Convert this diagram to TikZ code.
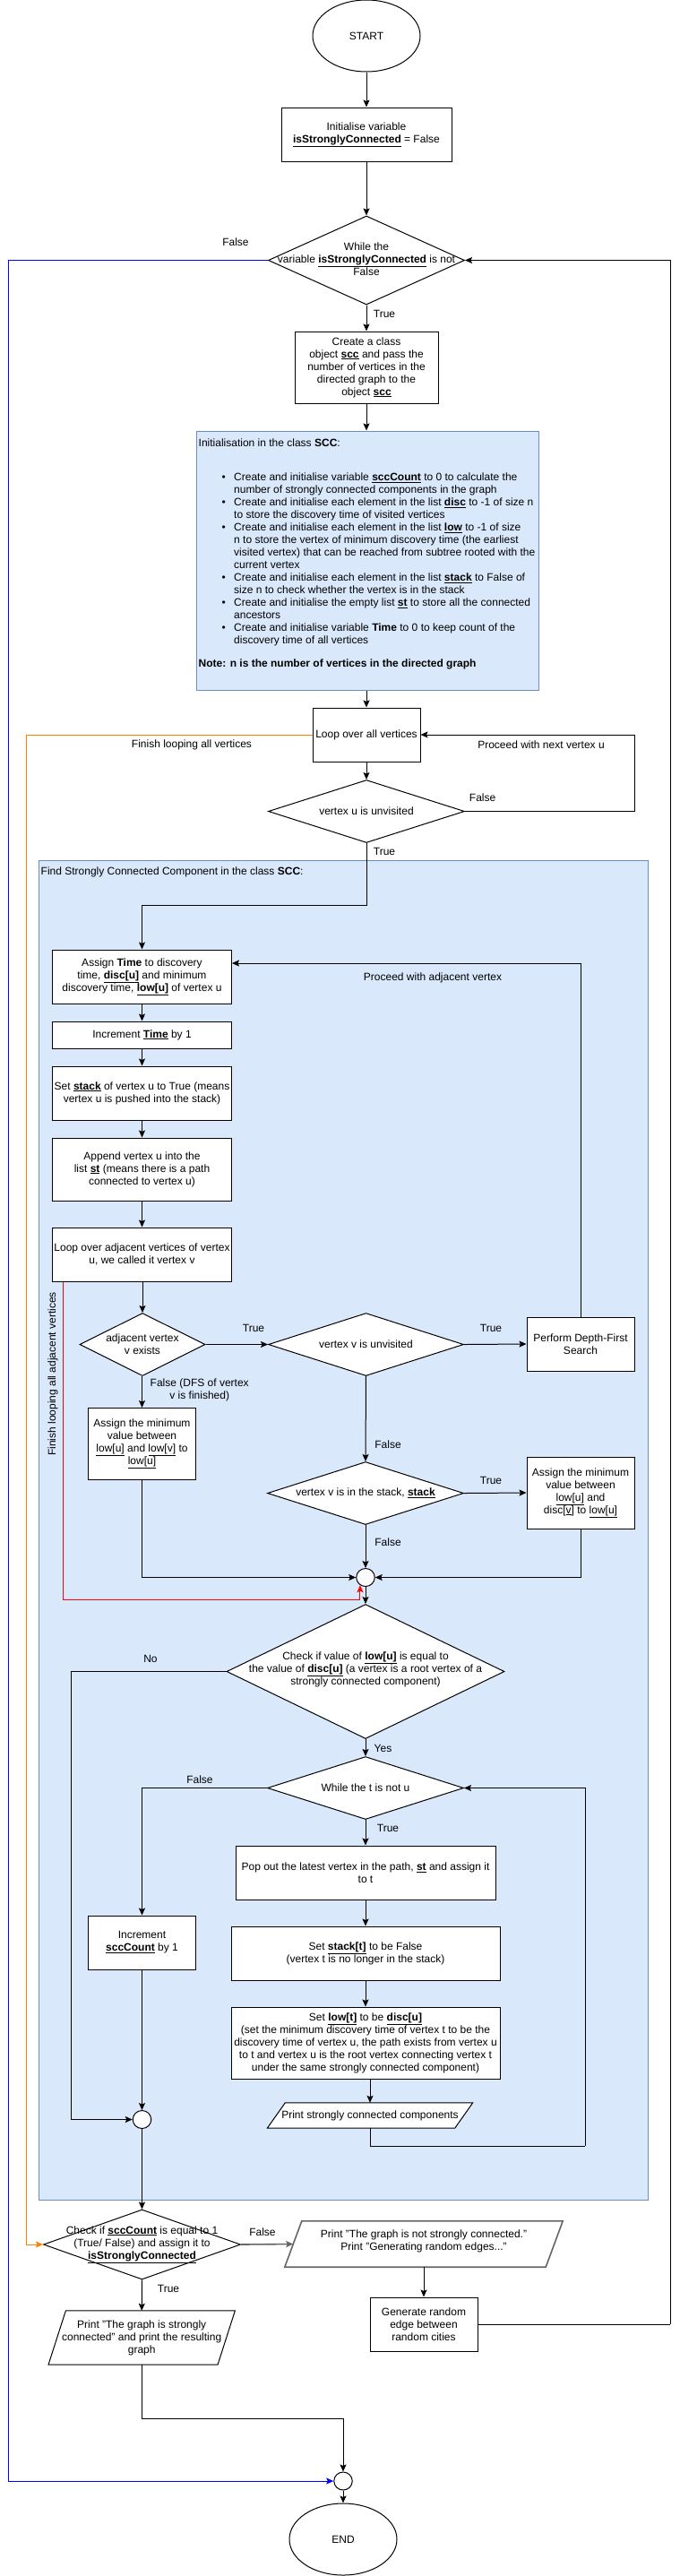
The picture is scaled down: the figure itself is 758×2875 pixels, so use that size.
\documentclass[tikz,border=0pt]{standalone}
\usepackage{fontspec}
\setmainfont{Liberation Sans}
\usetikzlibrary{shapes.geometric,arrows.meta,calc}
\definecolor{cfill}{HTML}{DAE8FC}
\definecolor{cdraw}{HTML}{6C8EBF}
\definecolor{corange}{HTML}{FF8000}
\definecolor{cgray}{HTML}{666666}
\newcommand{\ubf}[1]{\underline{\textbf{#1}}}
\newcommand{\uln}[1]{\underline{#1}}
\newcommand{\bul}{\makebox[13.5pt][l]{\textbullet}}
\newcommand{\ind}{\makebox[13.5pt]{}}
\begin{document}
\begin{tikzpicture}[x=1pt,y=-1pt,
  every node/.style={font=\fontsize{12}{14}\selectfont, inner sep=0pt, align=center},
  box/.style={draw, rectangle, line width=1pt, fill=white},
  dia/.style={draw, diamond, line width=1pt, fill=white},
  oval/.style={draw, ellipse, line width=1pt, fill=white},
  junc/.style={draw, ellipse, line width=1pt, fill=white, minimum width=20.5pt, minimum height=20pt},
  group/.style={draw=cdraw, fill=cfill, line width=1pt},
  pgram/.style={draw, line width=1pt, fill=white},
  conn/.style={line width=1pt, -{Stealth[length=8pt,width=7pt,inset=1.5pt]}},
  wire/.style={line width=1pt}]
\fill[white] (0,0) rectangle (758,2875);
\useasboundingbox (0,0) rectangle (758,2875);

% groups
\node[group, rectangle, minimum width=679.5pt, minimum height=1495pt] (cont) at (383.25,1707.5) {};
\node[anchor=west] (contl) at (45.5,973) {Find Strongly Connected Component in the class \textbf{SCC}:};

% top part
\node[oval, minimum width=120pt, minimum height=80pt] (start) at (409,40) {START};
\node[box, minimum width=190pt, minimum height=60pt] (init) at (409,150) {Initialise variable\\\ubf{isStronglyConnected} = False};
\node[dia, minimum width=219pt, minimum height=99pt] (w) at (409,290.5) {};
\node (wtx) at (409,289) {While the\\variable \ubf{isStronglyConnected} is not\\False};
\node[box, minimum width=160pt, minimum height=80pt] (create) at (409,410) {Create a class\\object \ubf{scc} and pass the\\number of vertices in the\\directed graph to the\\object \ubf{scc}};
\node[group, rectangle, minimum width=382pt, minimum height=289pt] (initscc) at (410.5,625.5) {};
\node[anchor=west] (isct) at (221.5,494) {Initialisation in the class \textbf{SCC}:};
\node[anchor=west, align=left] (iscb) at (247.5,624.5) {%
\bul Create and initialise variable \ubf{sccCount} to 0 to calculate the\\
\ind number of strongly connected components in the graph\\
\bul Create and initialise each element in the list \ubf{disc} to -1 of size n\\
\ind to store the discovery time of visited vertices\\
\bul Create and initialise each element in the list \ubf{low} to -1 of size\\
\ind n to store the vertex of minimum discovery time (the earliest\\
\ind visited vertex) that can be reached from subtree rooted with the\\
\ind current vertex\\
\bul Create and initialise each element in the list \ubf{stack} to False of\\
\ind size n to check whether the vertex is in the stack\\
\bul Create and initialise the empty list \ubf{st} to store all the connected\\
\ind ancestors\\
\bul Create and initialise variable \textbf{Time} to 0 to keep count of the\\
\ind discovery time of all vertices};
\node[anchor=west] (iscn) at (221.5,741.7) {\textbf{Note: n is the number of vertices in the directed graph}};
\node[box, minimum width=120pt, minimum height=60pt] (loop) at (409,820) {Loop over all vertices};
\node[dia, minimum width=219pt, minimum height=70pt] (uv) at (409,905.5) {};
\node (uvt) at (409,905.5) {vertex u is unvisited};

% left column
\node[box, minimum width=200pt, minimum height=60pt] (assign) at (158.5,1090) {Assign \textbf{Time} to discovery\\time, \ubf{disc[u]} and minimum\\discovery time, \ubf{low[u]} of vertex u};
\node[box, minimum width=200pt, minimum height=30pt] (inct) at (158.5,1155) {Increment \ubf{Time} by 1};
\node[box, minimum width=200pt, minimum height=60pt] (sets) at (158.5,1220) {Set \ubf{stack} of vertex u to True (means\\vertex u is pushed into the stack)};
\node[box, minimum width=200pt, minimum height=70pt] (app) at (158.5,1305) {Append vertex u into the\\list \ubf{st} (means there is a path\\connected to vertex u)};
\node[box, minimum width=200pt, minimum height=60pt] (ladj) at (158.5,1400) {Loop over adjacent vertices of vertex\\u, we called it vertex v};
\node[dia, minimum width=140pt, minimum height=70pt] (adj) at (159,1500.5) {};
\node (adjt) at (159,1500.5) {adjacent vertex\\v exists};
\node[dia, minimum width=218pt, minimum height=70pt] (vu) at (408.5,1500.5) {};
\node (vut) at (408.5,1500.5) {vertex v is unvisited};
\node[box, minimum width=120pt, minimum height=60pt] (dfs) at (648,1500) {Perform Depth-First\\Search};
\node[box, minimum width=120pt, minimum height=80pt] (lam) at (158.5,1611.5) {Assign the minimum\\value between\\\uln{low[u]} and \uln{low[v]} to\\\uln{low[u]}};
\node[dia, minimum width=219pt, minimum height=70pt] (sd) at (408,1666.5) {};
\node (sdt) at (408,1666.5) {vertex v is in the stack, \ubf{stack}};
\node[box, minimum width=120pt, minimum height=80pt] (ram) at (648,1666) {Assign the minimum\\value between\\\uln{low[u]} and\\disc[\uln{v}] to \uln{low[u]}};
\node[junc] (j1) at (408,1760.5) {};
\node[dia, minimum width=310pt, minimum height=150pt] (cd) at (408,1865.5) {};
\node (cdt) at (408,1863) {Check if value of \ubf{low[u]} is equal to\\the value of \ubf{disc[u]} (a vertex is a root vertex of a\\strongly connected component)};
\node[dia, minimum width=219pt, minimum height=70pt] (wt) at (408,1995.5) {};
\node (wtt) at (408,1995.5) {While the t is not u};
\node[box, minimum width=290pt, minimum height=60pt] (pop) at (408,2090) {Pop out the latest vertex in the path, \ubf{st} and assign it\\to t};
\node[box, minimum width=300pt, minimum height=60pt] (sst) at (408,2180) {Set \ubf{stack[t]} to be False\\(vertex t is no longer in the stack)};
\node[box, minimum width=300pt, minimum height=80pt] (slt) at (408,2280) {Set \ubf{low[t]} to be \ubf{disc[u]}\\(set the minimum discovery time of vertex t to be the\\discovery time of vertex u, the path exists from vertex u\\to t and vertex u is the root vertex connecting vertex t\\under the same strongly connected component)};
\node[minimum width=229pt, minimum height=28pt] (psccb) at (413,2361) {};
\draw[pgram] ([xshift=20pt]psccb.north west) -- (psccb.north east) -- ([xshift=-20pt]psccb.south east) -- (psccb.south west) -- cycle;
\node (psct) at (413,2361) {Print strongly connected components};
\node[box, minimum width=120pt, minimum height=60pt] (inc) at (158.5,2168) {Increment\\\ubf{sccCount} by 1};
\node[junc] (j2) at (158.5,2365.5) {};

% bottom part
\node[dia, minimum width=220pt, minimum height=78pt] (fd) at (158.5,2505) {};
\node (fdt) at (158.5,2505) {Check if \ubf{sccCount} is equal to 1\\(True/ False) and assign it to\\\ubf{isStronglyConnected}};
\node[minimum width=310pt, minimum height=51pt] (pnsb) at (473,2504.5) {};
\draw[pgram, draw=cgray, line width=1.6pt] ([xshift=19pt]pnsb.north west) -- (pnsb.north east) -- ([xshift=-19pt]pnsb.south east) -- (pnsb.south west) -- cycle;
\node (pnst) at (473,2501) {Print "The graph is not strongly connected."\\Print "Generating random edges..."};
\node[box, minimum width=120pt, minimum height=60pt] (gen) at (473,2594) {Generate random\\edge between\\random cities};
\node[minimum width=208pt, minimum height=60pt] (pscb) at (158.2,2609) {};
\draw[pgram] ([xshift=19.4pt]pscb.north west) -- (pscb.north east) -- ([xshift=-19.4pt]pscb.south east) -- (pscb.south west) -- cycle;
\node (psct2) at (158.2,2609) {Print "The graph is strongly\\connected" and print the resulting\\graph};
\node[junc] (j3) at (383,2769) {};
\node[oval, minimum width=120pt, minimum height=80pt] (endn) at (383,2834) {END};

% coordinates for bends
\coordinate (r1) at (708.7,820);
\coordinate (c1) at (409,1010);
\coordinate (o1) at (29.5,820);
\coordinate (b1) at (9.7,290.5);
\coordinate (rd) at (70,1785);
\coordinate (n1) at (79.7,1865.5);
\coordinate (l1) at (653,2395);
\coordinate (r3) at (748,2594);
\coordinate (e1) at (383,2699);

% connectors
\draw[conn] (start) -- (init);
\draw[conn] (init.south) -- (w.north);
\draw[conn] (w.south) -- (create.north);
\draw[conn] (create.south) -- (create.south |- initscc.north);
\draw[conn] (loop.north |- initscc.south) -- (loop.north);
\draw[conn] (loop.south) -- (uv.north);
\draw[conn] (uv.east) -| (r1) -- (loop.east);
\draw[conn] (uv.south) -- (c1) -| (assign.north);
\draw[conn, draw=corange] (loop.west) -- (o1) |- (fd.west);
\draw[conn, draw=blue] (w.west) -- (b1) |- (j3.west);
\draw[conn] (assign) -- (inct);
\draw[conn] (inct) -- (sets);
\draw[conn] (sets) -- (app);
\draw[conn] (app) -- (ladj);
\draw[conn] (ladj.south -| adj.north) -- (adj.north);
\draw[conn] (adj.east) -- (vu.west);
\draw[conn] (vu.east) -- (dfs.west);
\draw[conn] (dfs.north) |- ([yshift=15pt]assign.east);
\draw[conn] (adj.south -| lam.north) -- (lam.north);
\draw[conn] (vu.south) -- (sd.north);
\draw[conn] (sd.east) -- (ram.west);
\draw[conn] (sd.south) -- (j1.north);
\draw[conn] (lam.south) |- (j1.west);
\draw[conn] (ram.south) |- (j1.east);
\draw[conn, draw=red] ([xshift=12pt]ladj.south west) -- (rd) -| (j1.235);
\draw[conn] (j1.south) -- (cd.north);
\draw[conn] (cd.west) -- (n1) |- (j2.west);
\draw[conn] (cd.south) -- (wt.north);
\draw[conn] (wt.west) -| (inc.north);
\draw[conn] (wt.south) -- (pop.north);
\draw[conn] (pop.south) -- (sst.north);
\draw[conn] (sst.south) -- (slt.north);
\draw[conn] (psccb.north |- slt.south) -- (psccb.north);
\draw[wire] (psccb.south) |- (l1);
\draw[conn] (l1) |- (wt.east);
\draw[conn] (inc.south) -- (j2.north);
\draw[conn] (j2.south) -- (fd.north);
\draw[conn, draw=cgray, line width=1.6pt] (fd.east) -- ([xshift=9.5pt]pnsb.west);
\draw[conn] (fd.south) -- (pscb.north);
\draw[conn] (pnsb.south) -- (gen.north);
\draw[wire] (gen.east) -- (r3);
\draw[conn] (r3) |- (w.east);
\draw[wire] (pscb.south) |- (e1);
\draw[conn] (e1) -- (j3.north);
\draw[conn] (j3.south) -- (endn.north);

% labels
\node (lf1) at (263,270) {False};
\node (lt1) at (429,350) {True};
\node (lfl) at (214,831) {Finish looping all vertices};
\node (lpn) at (604,831) {Proceed with next vertex u};
\node (lf2) at (538.6,890) {False};
\node (lt2) at (429,950) {True};
\node (lpa) at (483,1091) {Proceed with adjacent vertex};
\node (lt3) at (283,1482) {True};
\node (lt4) at (548,1482) {True};
\node (lf3) at (222.7,1551) {False (DFS of vertex\\v is finished)};
\node (lf4) at (433,1612) {False};
\node (lt5) at (548,1652) {True};
\node (lf5) at (433,1721) {False};
\node[rotate=90] (lfa) at (59,1533.5) {Finish looping all adjacent vertices};
\node (lno) at (168,1851) {No};
\node (lyes) at (427.5,1951) {Yes};
\node (lf6) at (223,1985.7) {False};
\node (lt6) at (433,2040.7) {True};
\node (lf7) at (293,2491) {False};
\node (lt7) at (188,2554) {True};
\end{tikzpicture}
\end{document}
